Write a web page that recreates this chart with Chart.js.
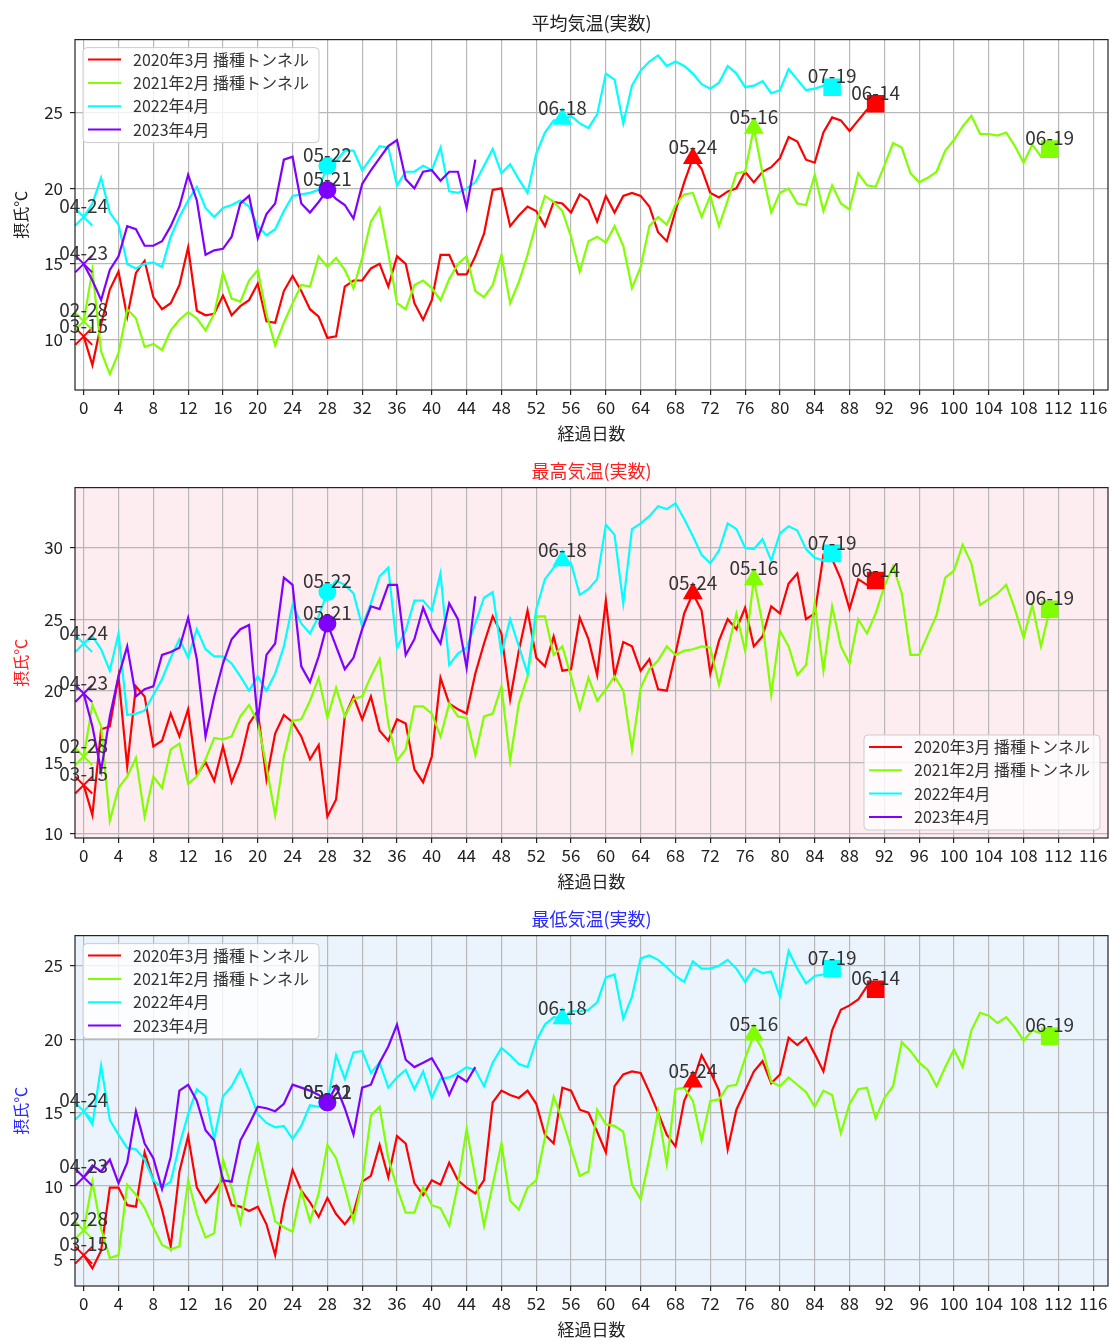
<!DOCTYPE html>
<html>
<head>
<meta charset="utf-8">
<script src="https://cdn.jsdelivr.net/npm/chart.js"></script>
<style>
  html, body { margin: 0; padding: 0; background: #fff; overflow: hidden; }
  .chart-box { position: relative; width: 1115px; height: 448px; }
</style>
</head>
<body>
<div class="chart-box"><canvas id="avgChart"></canvas></div>
<div class="chart-box"><canvas id="maxChart"></canvas></div>
<div class="chart-box"><canvas id="minChart"></canvas></div>

<script>
// series names / colours
const seriesNames = ['2020年3月 播種トンネル', '2021年2月 播種トンネル', '2022年4月', '2023年4月'];
const seriesColors = ['#ff0000', '#80ff00', '#00ffff', '#8000ff'];

// x axis: days since sowing
const dayTicks = [0, 4, 8, 12, 16, 20, 24, 28, 32, 36, 40, 44, 48, 52, 56, 60, 64, 68, 72, 76, 80, 84, 88, 92, 96, 100, 104, 108, 112, 116];
const avgTicks = [10, 15, 20, 25];
const maxTicks = [10, 15, 20, 25, 30];
const minTicks = [5, 10, 15, 20, 25];

// 平均気温 (index = 経過日数)
const avg2020 = [10.2, 8.3, 11.0, 13.3, 14.5, 11.5, 14.4, 15.2, 12.8, 12.0,
  12.4, 13.6, 16.1, 11.9, 11.6, 11.7, 12.9, 11.6, 12.2, 12.6,
  13.7, 11.2, 11.1, 13.2, 14.2, 13.2, 12.0, 11.5, 10.1, 10.2,
  13.5, 13.9, 13.9, 14.7, 15.0, 13.5, 15.5, 15.0, 12.4, 11.3,
  12.6, 15.6, 15.6, 14.3, 14.3, 15.5, 17.0, 19.9, 20.0, 17.5,
  18.2, 18.8, 18.5, 17.5, 19.1, 19.0, 18.4, 19.6, 19.2, 17.8,
  19.5, 18.4, 19.5, 19.7, 19.5, 18.8, 17.1, 16.5, 18.5, 20.4,
  22.0, 21.3, 19.7, 19.4, 19.8, 20.0, 21.1, 20.4, 21.1, 21.4,
  22.0, 23.4, 23.1, 21.9, 21.7, 23.7, 24.7, 24.5, 23.8, 24.5,
  25.2, 25.6];
const avg2021 = [11.2, 14.6, 9.2, 7.7, 9.1, 12.0, 11.4, 9.5, 9.7, 9.3,
  10.6, 11.3, 11.8, 11.4, 10.6, 11.7, 14.4, 12.7, 12.5, 13.9,
  14.6, 11.7, 9.6, 11.1, 12.4, 13.6, 13.5, 15.5, 14.8, 15.4,
  14.6, 13.4, 15.4, 17.8, 18.7, 15.7, 12.4, 12.0, 13.6, 13.9,
  13.4, 12.6, 14.0, 15.0, 15.5, 13.2, 12.8, 13.6, 15.6, 12.4,
  13.8, 15.6, 17.7, 19.5, 19.1, 18.5, 16.8, 14.5, 16.5, 16.8,
  16.4, 17.5, 16.2, 13.4, 14.8, 17.5, 18.1, 17.6, 18.9, 19.6,
  19.7, 18.1, 19.5, 17.5, 19.2, 21.0, 21.1, 24.0, 21.0, 18.4,
  19.7, 20.0, 19.0, 18.9, 20.9, 18.5, 20.2, 19.0, 18.6, 21.0,
  20.2, 20.1, 21.5, 23.0, 22.7, 21.0, 20.4, 20.7, 21.1, 22.5,
  23.2, 24.1, 24.8, 23.6, 23.6, 23.5, 23.7, 22.8, 21.7, 22.9,
  22.1, 22.6];
const avg2022 = [18.1, 19.0, 20.7, 18.4, 17.6, 15.0, 14.7, 15.0, 15.1, 14.8,
  16.8, 18.1, 19.2, 20.1, 18.7, 18.1, 18.7, 18.9, 19.2, 18.8,
  17.5, 16.9, 17.3, 18.5, 19.5, 19.6, 19.7, 19.9, 21.5, 21.8,
  22.5, 22.5, 21.2, 22.0, 22.8, 22.7, 20.2, 21.1, 21.1, 21.5,
  21.2, 22.7, 19.8, 19.7, 20.0, 20.4, 21.5, 22.6, 21.0, 21.6,
  20.6, 19.7, 22.3, 23.7, 24.5, 24.6, 24.8, 24.3, 24.0, 24.9,
  27.6, 27.2, 24.3, 26.8, 27.8, 28.4, 28.8, 28.1, 28.4, 28.1,
  27.6, 26.9, 26.6, 27.0, 28.1, 27.6, 26.7, 26.8, 27.1, 26.3,
  26.5, 27.9, 27.2, 26.5, 26.6, 26.8, 26.7];
const avg2023 = [15.0, 13.9, 12.6, 14.6, 15.5, 17.5, 17.3, 16.2, 16.2, 16.5,
  17.5, 18.8, 20.9, 19.2, 15.6, 15.9, 16.0, 16.8, 19.0, 19.5,
  16.7, 18.3, 19.0, 21.9, 22.1, 19.0, 18.4, 19.1, 19.9, 19.3,
  18.9, 18.0, 20.3, 21.2, 22.0, 22.8, 23.2, 20.6, 20.0, 21.1,
  21.2, 20.5, 21.1, 21.1, 18.7, 21.9];

// 最高気温
const max2020 = [13.4, 11.3, 17.3, 17.5, 21.0, 14.7, 20.3, 19.6, 16.1, 16.5,
  18.4, 16.8, 18.7, 14.1, 15.0, 13.7, 16.1, 13.6, 15.1, 17.7,
  18.6, 13.8, 17.0, 18.3, 17.8, 16.8, 15.2, 16.2, 11.2, 12.4,
  18.2, 19.6, 18.0, 19.6, 17.2, 16.5, 18.0, 17.7, 14.5, 13.6,
  15.4, 20.9, 19.1, 18.7, 18.4, 21.2, 23.3, 25.2, 24.0, 19.4,
  22.8, 25.6, 22.3, 21.7, 23.8, 21.4, 21.5, 25.1, 23.6, 21.1,
  26.3, 21.0, 23.4, 23.1, 21.4, 22.2, 20.1, 20.0, 22.6, 25.4,
  26.8, 25.6, 21.2, 23.5, 25.0, 24.3, 25.8, 23.1, 23.8, 25.9,
  25.4, 27.5, 28.2, 25.0, 25.4, 29.5, 29.2, 27.8, 25.7, 27.8,
  27.4, 27.7];
const max2021 = [15.4, 19.0, 17.5, 10.9, 13.2, 14.0, 15.3, 11.2, 14.0, 13.2,
  15.9, 16.3, 13.5, 14.0, 15.2, 16.7, 16.6, 16.8, 18.2, 19.0,
  17.8, 14.7, 11.3, 15.4, 17.9, 18.0, 19.3, 20.9, 18.1, 20.2,
  18.2, 19.4, 19.6, 21.0, 22.2, 17.7, 15.1, 15.9, 18.9, 18.9,
  18.4, 16.8, 19.1, 18.2, 18.1, 15.5, 18.2, 18.4, 20.3, 15.1,
  19.1, 21.0, 25.2, 25.2, 22.5, 23.1, 21.0, 18.7, 20.9, 19.3,
  20.1, 21.0, 20.0, 15.9, 20.2, 21.5, 22.1, 23.1, 22.5, 22.8,
  22.9, 23.1, 23.0, 20.4, 22.9, 25.4, 22.8, 27.8, 24.7, 19.7,
  24.2, 23.1, 21.1, 21.8, 26.1, 21.4, 25.9, 23.1, 21.9, 25.0,
  24.0, 25.4, 27.3, 28.7, 26.8, 22.5, 22.5, 23.9, 25.3, 27.9,
  28.4, 30.2, 28.9, 26.0, 26.4, 26.8, 27.4, 25.7, 23.7, 26.0,
  23.1, 25.7];
const max2022 = [23.3, 23.8, 22.9, 21.4, 24.0, 18.3, 18.4, 18.6, 19.7, 20.8,
  22.3, 23.6, 22.3, 24.3, 22.9, 22.4, 22.4, 21.9, 21.0, 20.0,
  21.0, 20.0, 21.2, 23.1, 26.0, 24.7, 24.0, 25.2, 26.9, 27.7,
  27.4, 26.8, 24.5, 26.1, 28.0, 28.6, 23.0, 24.2, 26.3, 26.3,
  25.6, 28.2, 21.8, 22.6, 23.0, 24.7, 26.5, 26.9, 22.6, 25.0,
  23.1, 21.2, 25.7, 27.8, 28.6, 29.1, 28.9, 26.7, 27.1, 27.8,
  31.6, 30.9, 26.1, 31.3, 31.7, 32.2, 32.9, 32.7, 33.1, 32.0,
  30.8, 29.5, 28.9, 29.8, 31.7, 31.3, 30.0, 29.9, 30.6, 29.1,
  31.0, 31.5, 31.2, 29.9, 29.3, 29.1, 29.6];
const max2023 = [19.8, 17.5, 14.4, 18.2, 21.0, 23.1, 19.6, 20.1, 20.3, 22.5,
  22.7, 23.0, 25.1, 22.2, 16.8, 19.6, 21.9, 23.6, 24.3, 24.6,
  17.9, 22.5, 23.3, 27.9, 27.4, 21.7, 20.6, 22.4, 24.7, 23.1,
  21.5, 22.3, 24.3, 25.9, 25.7, 27.4, 27.4, 22.5, 23.6, 25.8,
  24.3, 23.3, 26.1, 25.0, 21.6, 26.6];

// 最低気温
const min2020 = [5.3, 4.4, 5.6, 9.9, 9.9, 8.7, 8.6, 12.3, 10.4, 8.4,
  5.9, 11.0, 13.4, 9.9, 8.9, 9.6, 10.5, 8.7, 8.6, 8.3,
  8.6, 7.4, 5.3, 8.7, 11.1, 9.7, 8.9, 7.9, 9.2, 8.1,
  7.4, 8.2, 10.3, 10.7, 12.8, 10.6, 13.4, 12.9, 10.2, 9.4,
  10.4, 10.1, 11.6, 10.4, 9.9, 9.5, 10.4, 15.7, 16.5, 16.2,
  16.0, 16.5, 15.6, 13.5, 12.9, 16.7, 16.5, 15.2, 15.0, 13.7,
  12.3, 16.8, 17.6, 17.8, 17.7, 16.4, 15.0, 13.5, 12.7, 15.8,
  17.1, 18.9, 17.8, 16.5, 12.5, 15.2, 16.5, 17.8, 18.5, 17.0,
  17.6, 20.1, 19.6, 20.1, 19.0, 17.8, 20.6, 22.0, 22.3, 22.7,
  23.6, 23.4];
const min2021 = [7.0, 10.3, 7.1, 5.1, 5.3, 10.1, 9.4, 8.5, 7.2, 6.0,
  5.7, 5.9, 10.4, 8.1, 6.5, 6.8, 11.8, 9.9, 7.5, 10.6,
  12.9, 10.2, 7.6, 7.2, 6.9, 9.7, 7.6, 9.5, 12.8, 11.9,
  9.9, 7.6, 10.3, 14.8, 15.4, 11.9, 9.9, 8.2, 8.2, 9.9,
  8.7, 8.5, 7.3, 10.1, 13.9, 10.6, 7.3, 10.1, 12.9, 9.0,
  8.4, 9.9, 10.4, 13.3, 16.1, 14.5, 12.6, 10.7, 11.0, 15.2,
  14.2, 14.1, 13.7, 10.1, 9.1, 11.9, 15.1, 11.5, 16.6, 16.7,
  15.8, 13.1, 15.8, 15.9, 16.8, 16.9, 18.7, 20.3, 19.3, 17.1,
  16.8, 17.4, 16.9, 16.4, 15.4, 16.5, 16.2, 13.6, 15.6, 16.6,
  16.7, 14.6, 16.0, 16.8, 19.8, 19.2, 18.4, 17.9, 16.8, 18.1,
  19.3, 18.1, 20.6, 21.8, 21.6, 21.1, 21.5, 20.8, 19.9, 20.6,
  20.4, 20.2];
const min2022 = [15.1, 14.2, 18.2, 14.5, 13.5, 12.6, 12.5, 11.8, 10.4, 9.9,
  10.3, 12.8, 14.9, 16.6, 16.1, 13.2, 16.1, 16.8, 17.9, 16.5,
  14.9, 14.3, 14.0, 14.1, 13.2, 14.1, 15.5, 15.4, 15.7, 18.9,
  17.3, 19.1, 19.2, 17.7, 18.4, 16.7, 17.4, 17.9, 16.6, 17.8,
  16.0, 17.3, 17.4, 17.7, 18.1, 17.9, 16.8, 18.4, 19.4, 18.9,
  18.3, 18.1, 19.9, 21.0, 21.5, 21.4, 21.9, 21.9, 22.0, 22.5,
  24.2, 24.4, 21.4, 22.9, 25.5, 25.7, 25.4, 24.9, 24.3, 23.9,
  25.3, 24.8, 24.8, 25.0, 25.4, 24.8, 23.9, 24.8, 24.5, 24.6,
  22.9, 26.0, 24.8, 23.8, 24.3, 24.4, 24.8];
const min2023 = [10.6, 11.4, 11.0, 11.8, 10.2, 11.6, 15.1, 12.9, 11.9, 9.8,
  12.0, 16.5, 16.9, 15.8, 13.8, 13.1, 10.4, 10.3, 13.1, 14.2,
  15.4, 15.3, 15.1, 15.6, 16.9, 16.7, 16.5, 16.2, 15.7, 16.8,
  15.3, 13.5, 16.7, 16.9, 18.4, 19.5, 21.0, 18.6, 18.1, 18.4,
  18.7, 17.7, 16.2, 17.5, 17.1, 18.1];

// marked days per series: [day, event, date label]
const marks2020 = [[0, 'start', '03-15'], [70, 'event', '05-24'], [91, 'end', '06-14']];
const marks2021 = [[0, 'start', '02-28'], [77, 'event', '05-16'], [111, 'end', '06-19']];
const marks2022 = [[0, 'start', '04-24'], [28, 'week4', '05-22'], [55, 'event', '06-18'], [86, 'end', '07-19']];
const marks2023 = [[0, 'start', '04-23'], [28, 'week4', '05-21']];
const seriesMarks = [marks2020, marks2021, marks2022, marks2023];

const markStyle = {
  start: { pointStyle: 'crossRot', radius: 12 },
  week4: { pointStyle: 'circle', radius: 8 },
  event: { pointStyle: 'triangle', radius: 9.5 },
  end:   { pointStyle: 'rect', radius: 11 }
};

Chart.defaults.font.family = "'Noto Sans CJK JP', 'Noto Sans', sans-serif";
Chart.defaults.color = '#222';

// background, frame, date notes and the in-plot legend
const decorPlugin = {
  id: 'decor',
  beforeDraw(chart, args, opts) {
    const { ctx, chartArea: a } = chart;
    ctx.save();
    ctx.fillStyle = opts.background;
    ctx.fillRect(a.left, a.top, a.right - a.left, a.bottom - a.top);
    ctx.restore();
  },
  afterDatasetsDraw(chart, args, opts) {
    const { ctx, chartArea: a, scales } = chart;
    ctx.save();
    ctx.strokeStyle = '#222';
    ctx.lineWidth = 1.2;
    ctx.strokeRect(a.left, a.top, a.right - a.left, a.bottom - a.top);

    ctx.font = "19px 'Noto Sans CJK JP'";
    ctx.fillStyle = '#333';
    ctx.textAlign = 'center';
    ctx.textBaseline = 'middle';
    chart.data.datasets.filter(ds => ds.notes).forEach(ds => {
      ds.data.forEach((p, k) => {
        ctx.fillText(ds.notes[k], scales.x.getPixelForValue(p.x), scales.y.getPixelForValue(p.y) - 11);
      });
    });

    const lines = chart.data.datasets.filter(ds => ds.isSeries);
    const w = 236, h = 95;
    const left = opts.legendCorner === 'bottom-right' ? a.right - 8 - w : a.left + 8;
    const top = opts.legendCorner === 'bottom-right' ? a.bottom - 8 - h : a.top + 8;
    ctx.fillStyle = 'rgba(255,255,255,0.8)';
    ctx.strokeStyle = '#cccccc';
    ctx.lineWidth = 1;
    ctx.beginPath();
    ctx.roundRect(left, top, w, h, 4);
    ctx.fill();
    ctx.stroke();
    ctx.font = "16px 'Noto Sans CJK JP'";
    ctx.textAlign = 'left';
    lines.forEach((ds, i) => {
      const y = top + 12 + i * 23.3;
      ctx.strokeStyle = ds.borderColor;
      ctx.lineWidth = 2;
      ctx.beginPath();
      ctx.moveTo(left + 5, y);
      ctx.lineTo(left + 38, y);
      ctx.stroke();
      ctx.fillStyle = '#333';
      ctx.fillText(ds.label, left + 50, y);
    });
    ctx.restore();
  }
};

function buildDatasets(seriesList) {
  const sets = [];
  seriesList.forEach((vals, i) => {
    sets.push({
      label: seriesNames[i],
      isSeries: true,
      data: vals.map((v, d) => ({ x: d, y: v })),
      borderColor: seriesColors[i],
      backgroundColor: seriesColors[i],
      borderWidth: 2.2,
      pointRadius: 0,
      pointHoverRadius: 0,
      order: 8 - i
    });
    const marks = seriesMarks[i];
    sets.push({
      label: seriesNames[i] + ' marks',
      notes: marks.map(m => m[2]),
      data: marks.map(m => ({ x: m[0], y: vals[m[0]] })),
      showLine: false,
      pointStyle: marks.map(m => markStyle[m[1]].pointStyle),
      pointRadius: marks.map(m => markStyle[m[1]].radius),
      pointHoverRadius: marks.map(m => markStyle[m[1]].radius),
      pointBorderWidth: 2,
      borderColor: seriesColors[i],
      backgroundColor: seriesColors[i],
      clip: 20,
      order: 4 - i
    });
  });
  return sets;
}

function drawPanel(id, title, titleColor, seriesList, yMin, yMax, yTicks, background, legendCorner) {
  const gridStyle = { color: '#b8b8b8', lineWidth: 1.2, tickLength: 5, tickColor: '#222', drawTicks: true };
  new Chart(document.getElementById(id), {
    type: 'line',
    data: { datasets: buildDatasets(seriesList) },
    options: {
      responsive: true,
      maintainAspectRatio: false,
      animation: false,
      events: [],
      layout: { autoPadding: false, padding: { left: 0, right: 7, top: 0, bottom: 0 } },
      plugins: {
        legend: { display: false },
        tooltip: { enabled: false },
        title: {
          display: true, text: title, color: titleColor, fullSize: false,
          font: { size: 18, weight: 'normal' },
          padding: { top: 12, bottom: 6 }
        },
        decor: { background: background, legendCorner: legendCorner }
      },
      scales: {
        x: {
          type: 'linear', min: -1, max: 117.7,
          afterBuildTicks: s => { s.ticks = dayTicks.map(v => ({ value: v })); },
          afterFit: s => { s.height = 58; s.paddingLeft = 0; s.paddingRight = 0; },
          ticks: { autoSkip: false, maxRotation: 0, minRotation: 0, font: { size: 17 }, color: '#222', padding: 2 },
          grid: gridStyle,
          border: { display: false },
          title: { display: true, text: '経過日数', color: '#222', font: { size: 17 }, padding: { top: 0, bottom: 4 } }
        },
        y: {
          type: 'linear', min: yMin, max: yMax,
          afterBuildTicks: s => { s.ticks = yTicks.map(v => ({ value: v })); },
          afterFit: s => { s.width = 75; s.paddingTop = 0; s.paddingBottom = 0; },
          ticks: { font: { size: 17 }, color: '#222', padding: 7 },
          grid: gridStyle,
          border: { display: false },
          title: { display: true, text: '摂氏℃', color: titleColor, font: { size: 16 }, padding: { top: 11, bottom: 0 } }
        }
      }
    },
    plugins: [decorPlugin]
  });
}

drawPanel('avgChart', '平均気温(実数)', '#222', [avg2020, avg2021, avg2022, avg2023],
  6.65, 29.85, avgTicks, '#ffffff', 'top-left');
drawPanel('maxChart', '最高気温(実数)', '#ff2020', [max2020, max2021, max2022, max2023],
  9.7, 34.2, maxTicks, '#fdecf0', 'bottom-right');
drawPanel('minChart', '最低気温(実数)', '#2a2aff', [min2020, min2021, min2022, min2023],
  3.2, 27.05, minTicks, '#ebf4fc', 'top-left');
</script>
</body>
</html>
